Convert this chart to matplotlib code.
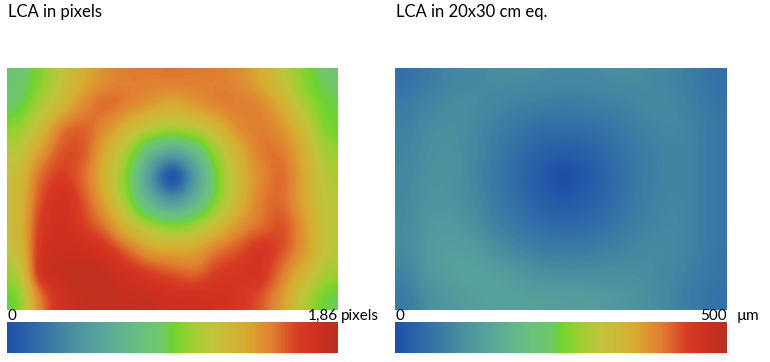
import matplotlib
matplotlib.use('Agg')
import matplotlib.pyplot as plt
import numpy as np
from matplotlib.colors import LinearSegmentedColormap, Normalize
import matplotlib.cm as cm

plt.rcParams['font.family'] = ['Lato', 'DejaVu Sans']

# LCA in pixels, as fraction of max (1.86 px); 10 rows x 15 cols, top row first
lca_px_max = 1.86
lca_px_rel = [
    [0.45, 0.53, 0.63, 0.72, 0.78, 0.80, 0.80, 0.80, 0.80, 0.80, 0.78, 0.72, 0.63, 0.53, 0.47],
    [0.48, 0.58, 0.68, 0.78, 0.82, 0.79, 0.75, 0.72, 0.75, 0.79, 0.80, 0.78, 0.70, 0.58, 0.50],
    [0.55, 0.66, 0.80, 0.83, 0.77, 0.68, 0.60, 0.57, 0.60, 0.68, 0.77, 0.80, 0.76, 0.65, 0.52],
    [0.62, 0.75, 0.85, 0.84, 0.71, 0.56, 0.38, 0.28, 0.38, 0.56, 0.70, 0.80, 0.80, 0.70, 0.57],
    [0.66, 0.82, 0.88, 0.82, 0.68, 0.50, 0.24, 0.02, 0.24, 0.50, 0.67, 0.78, 0.82, 0.72, 0.60],
    [0.68, 0.85, 0.92, 0.85, 0.72, 0.54, 0.35, 0.24, 0.35, 0.53, 0.68, 0.80, 0.82, 0.72, 0.62],
    [0.68, 0.88, 0.93, 0.88, 0.80, 0.67, 0.57, 0.52, 0.56, 0.66, 0.76, 0.82, 0.85, 0.75, 0.62],
    [0.66, 0.90, 0.95, 0.94, 0.90, 0.82, 0.74, 0.72, 0.73, 0.80, 0.85, 0.90, 0.85, 0.75, 0.62],
    [0.60, 0.90, 0.96, 0.97, 0.96, 0.92, 0.88, 0.85, 0.83, 0.88, 0.90, 0.90, 0.80, 0.68, 0.57],
    [0.53, 0.80, 0.93, 0.96, 0.97, 0.96, 0.95, 0.93, 0.93, 0.92, 0.90, 0.85, 0.75, 0.60, 0.50],
]

# LCA in 20x30 cm equivalent, as fraction of max (500 um)
lca_um_max = 500
lca_um_rel = [
    [0.11, 0.14, 0.17, 0.18, 0.19, 0.19, 0.185, 0.18, 0.18, 0.185, 0.19, 0.185, 0.17, 0.14, 0.11],
    [0.14, 0.17, 0.19, 0.19, 0.175, 0.16, 0.15, 0.14, 0.145, 0.155, 0.165, 0.18, 0.175, 0.15, 0.12],
    [0.16, 0.19, 0.20, 0.185, 0.155, 0.125, 0.10, 0.095, 0.10, 0.115, 0.14, 0.165, 0.175, 0.16, 0.13],
    [0.17, 0.20, 0.21, 0.18, 0.14, 0.10, 0.065, 0.045, 0.055, 0.085, 0.12, 0.15, 0.165, 0.16, 0.13],
    [0.18, 0.21, 0.215, 0.18, 0.13, 0.085, 0.04, 0.00, 0.025, 0.07, 0.115, 0.15, 0.165, 0.16, 0.13],
    [0.185, 0.22, 0.22, 0.19, 0.14, 0.10, 0.06, 0.035, 0.05, 0.08, 0.12, 0.155, 0.17, 0.16, 0.13],
    [0.19, 0.23, 0.24, 0.21, 0.165, 0.13, 0.10, 0.085, 0.09, 0.11, 0.14, 0.165, 0.175, 0.16, 0.13],
    [0.19, 0.24, 0.26, 0.25, 0.21, 0.175, 0.15, 0.14, 0.14, 0.155, 0.17, 0.185, 0.18, 0.16, 0.125],
    [0.17, 0.23, 0.26, 0.27, 0.26, 0.235, 0.21, 0.20, 0.20, 0.20, 0.20, 0.19, 0.175, 0.145, 0.12],
    [0.14, 0.20, 0.24, 0.26, 0.27, 0.27, 0.26, 0.255, 0.25, 0.24, 0.225, 0.20, 0.17, 0.135, 0.11],
]

cmap_stops = [0.0, 0.1, 0.2, 0.3, 0.4, 0.47, 0.5, 0.55, 0.62, 0.72, 0.8, 0.88, 0.93, 1.0]
cmap_colors = ['#1f50a8', '#3270a8', '#4a90a0', '#5aa89a', '#68c080', '#70c868', '#6cd430',
               '#98d030', '#c0c43c', '#d8ac30', '#e08030', '#d83c24', '#d03020', '#b83020']
lca_cmap = LinearSegmentedColormap.from_list('lca', list(zip(cmap_stops, cmap_colors)))

W, H = 770, 362
fig = plt.figure(figsize=(W / 100, H / 100), dpi=100)


def box(x0, y0, x1, y1):
    return [x0 / W, 1 - y1 / H, (x1 - x0) / W, (y1 - y0) / H]


def panel(x0, x1, data, vmax, title):
    ax = fig.add_axes(box(x0, 68, x1, 310))
    ax.imshow(np.array(data) * vmax, cmap=lca_cmap, vmin=0, vmax=vmax,
              aspect='auto', interpolation='catrom')
    ax.axis('off')
    cax = fig.add_axes(box(x0, 322, x1, 353))
    cb = fig.colorbar(cm.ScalarMappable(norm=Normalize(0, vmax), cmap=lca_cmap),
                      cax=cax, orientation='horizontal')
    cb.outline.set_visible(False)
    cax.set_xticks([])
    fig.text((x0 + 1) / W, 1 - 17 / H, title, fontsize=12, ha='left', va='baseline')
    fig.text((x0 + 1) / W, 1 - 320 / H, '0', fontsize=11, ha='left', va='baseline')
    return cax


panel(7, 338, lca_px_rel, lca_px_max, 'LCA in pixels')
fig.text(338 / W, 1 - 320 / H, '1,86', fontsize=11, ha='right', va='baseline')
fig.text(341 / W, 1 - 320 / H, 'pixels', fontsize=11, ha='left', va='baseline')

panel(395, 727, lca_um_rel, lca_um_max, 'LCA in 20x30 cm eq.')
fig.text(727 / W, 1 - 320 / H, '500', fontsize=11, ha='right', va='baseline')
fig.text(737 / W, 1 - 320 / H, 'µm', fontsize=11, ha='left', va='baseline')

fig.savefig('out.png', dpi=100)
